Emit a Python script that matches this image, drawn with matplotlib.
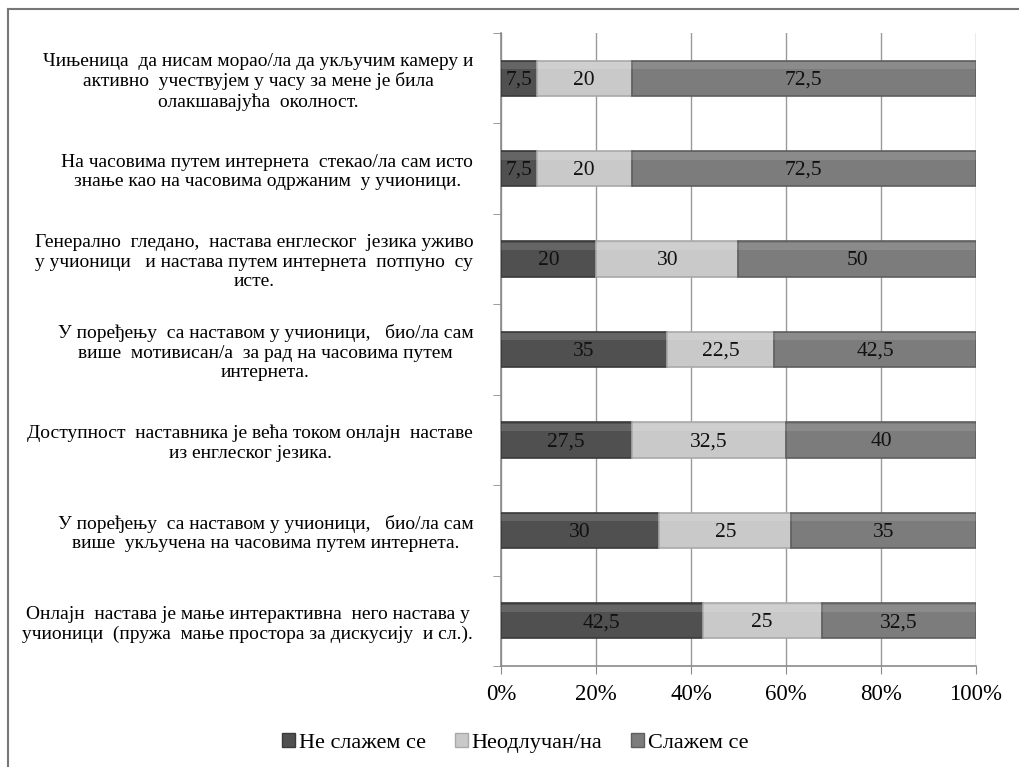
import matplotlib.pyplot as plt
import numpy as np
from matplotlib.patches import Patch
from matplotlib.lines import Line2D

plt.rcParams['font.family'] = ['Liberation Serif', 'DejaVu Serif']

# categories, top to bottom as in the picture
categories = [
    'Чињеница  да нисам морао/ла да укључим камеру и\nактивно  учествујем у часу за мене је била\nолакшавајућа  околност.',
    'На часовима путем интернета  стекао/ла сам исто\nзнање као на часовима одржаним  у учионици.',
    'Генерално  гледано,  настава енглеског  језика уживо\nу учионици   и настава путем интернета  потпуно  су\nисте.',
    'У поређењу  са наставом у учионици,   био/ла сам\nвише  мотивисан/а  за рад на часовима путем\nинтернета.',
    'Доступност  наставника је већа током онлајн  наставе\nиз енглеског језика.',
    'У поређењу  са наставом у учионици,   био/ла сам\nвише  укључена на часовима путем интернета.',
    'Онлајн  настава је мање интерактивна  него настава у\nучионици  (пружа  мање простора за дискусију  и сл.).',
]
series_names = ['Не слажем се', 'Неодлучан/на', 'Слажем се']
disagree = [7.5, 7.5, 20, 35, 27.5, 30, 42.5]
undecided = [20, 20, 30, 22.5, 32.5, 25, 25]
agree = [72.5, 72.5, 50, 42.5, 40, 35, 32.5]
xticks = [0, 20, 40, 60, 80, 100]

colors = ['#505050', '#c9c9c9', '#7c7c7c']
edges = ['#3a3a3a', '#a9a9a9', '#5e5e5e']

fig = plt.figure(figsize=(10.2, 7.67), dpi=100)
ax = fig.add_axes([501/1020, 1-666/767, 475/1020, 633/767])

data = np.array([disagree, undecided, agree])
pct = data / data.sum(axis=0) * 100
y = np.arange(len(categories))
left = np.zeros(len(categories))
for i in range(3):
    bars = ax.barh(y, pct[i], left=left, height=0.39, color=colors[i],
                   edgecolor=edges[i], linewidth=1.2, zorder=3)
    # light top highlight to hint the bevel
    ax.barh(y - 0.14, pct[i], left=left, height=0.08, color='white',
            alpha=0.12, linewidth=0, zorder=4)
    for b, v in zip(bars, data[i]):
        txt = ('%g' % v).replace('.', ',')
        ax.text(b.get_x() + b.get_width()/2, b.get_y() + b.get_height()/2 + 0.02, txt,
                ha='center', va='center', fontsize=15.5, color='#111111', zorder=5)
    left += pct[i]

ax.set_xlim(0, 100)
ax.set_ylim(len(categories) - 0.5, -0.5)
ax.set_xticks(xticks)
ax.set_xticklabels(['%d%%' % t for t in xticks], fontsize=16.5)
ax.tick_params(axis='x', length=6, color='#8a8a8a', pad=7)
ax.set_yticks(y)
ax.set_yticklabels(categories, fontsize=14, multialignment='center', linespacing=1.2)
ax.tick_params(axis='y', length=0, pad=20)
# small boundary ticks on the y axis
ax.set_yticks(np.arange(len(categories) + 1) - 0.5, minor=True)
ax.tick_params(axis='y', which='minor', length=6, color='#8a8a8a')
ax.grid(axis='x', color='#999999', linewidth=1, zorder=0)
for s in ['top', 'right']:
    ax.spines[s].set_visible(False)
for s in ['left', 'bottom']:
    ax.spines[s].set_color('#8a8a8a')
    ax.spines[s].set_linewidth(1.2)

handles = [Patch(facecolor=colors[i], edgecolor=edges[i]) for i in range(3)]
fig.legend(handles, series_names, loc='center', bbox_to_anchor=(515/1020, 1-743/767),
           ncol=3, frameon=False, fontsize=16, handlelength=0.6, handleheight=0.6,
           handletextpad=0.15, columnspacing=1.3)

# outer frame (only left and top edges are visible)
fig.add_artist(Line2D([8/1020, 8/1020], [0, 1-9/767], color='#777777', lw=1.5))
fig.add_artist(Line2D([8/1020, 1], [1-9/767, 1-9/767], color='#777777', lw=1.5))

fig.savefig('out.png', dpi=100, facecolor='white')
